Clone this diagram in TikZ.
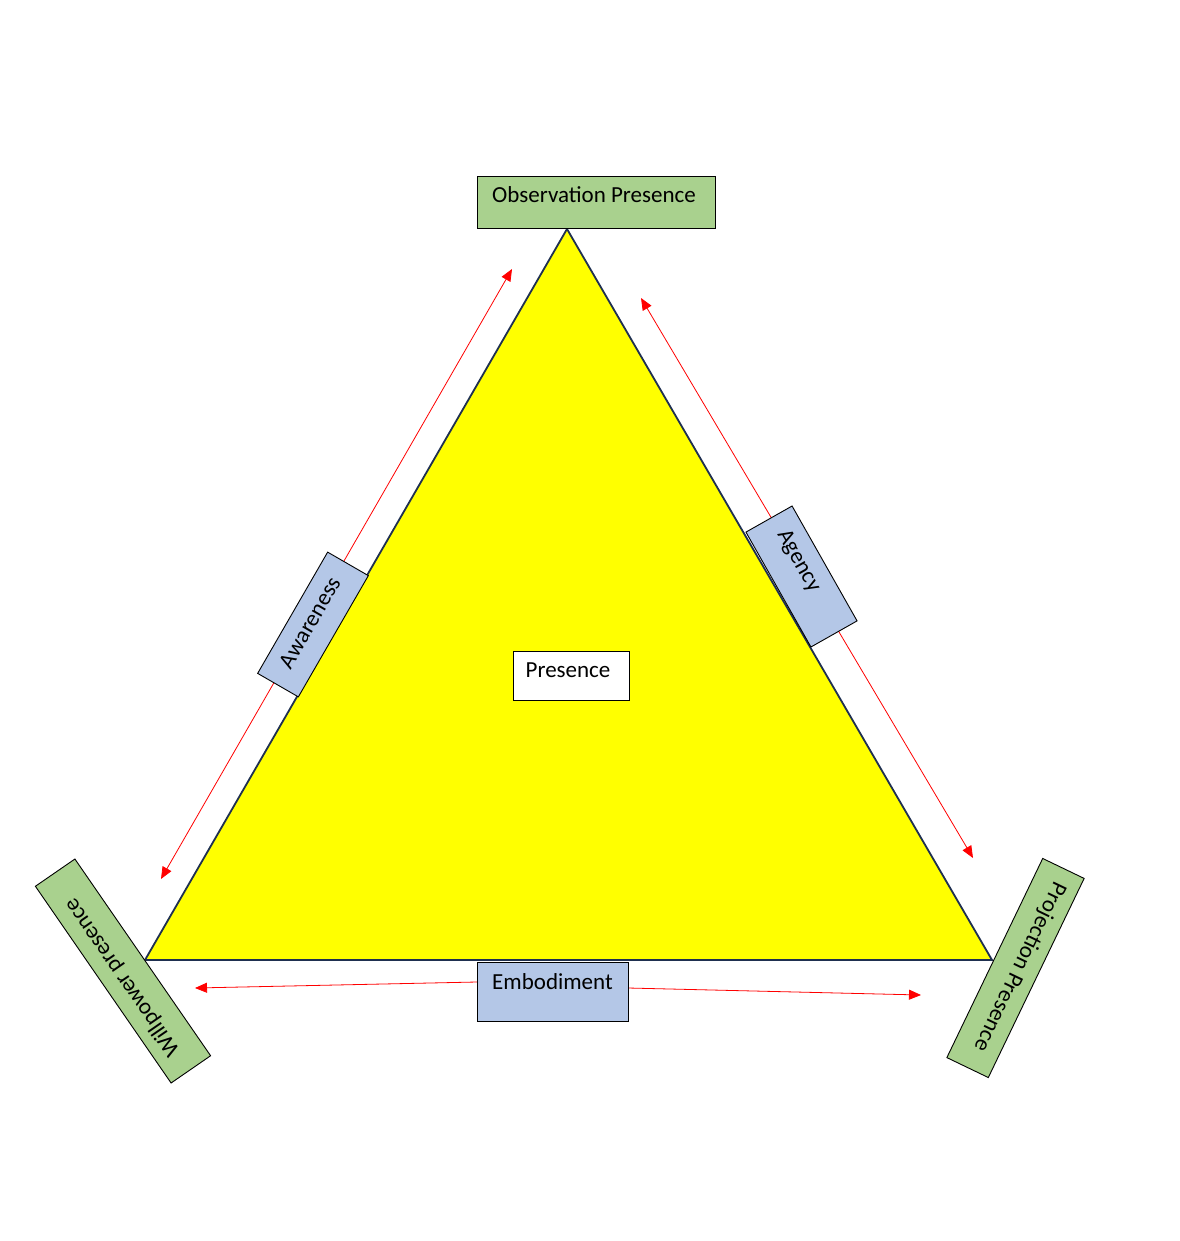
\documentclass[tikz,border=0pt]{standalone}
\usepackage{fontspec}
\setmainfont{Carlito}
\usetikzlibrary{arrows.meta}
\definecolor{boxgreen}{HTML}{A9D18E}
\definecolor{boxblue}{HTML}{B4C7E7}
\definecolor{triedge}{HTML}{1F3050}
\definecolor{trifill}{HTML}{FFFF00}
\begin{document}
\begin{tikzpicture}[x=1pt,y=1pt,
  lbl/.style={draw=black,line width=0.9pt,inner xsep=0pt,inner ysep=0pt,
    font=\fontsize{23}{27}\selectfont},
  greenbox/.style={lbl,fill=boxgreen},
  bluebox/.style={lbl,fill=boxblue},
  whitebox/.style={lbl,fill=white},
  redarrow/.style={red,line width=0.8pt,-{Triangle[length=12pt,width=10pt]}},
  redarrows/.style={red,line width=0.8pt,{Triangle[length=12pt,width=10pt]}-{Triangle[length=12pt,width=10pt]}}
]
\useasboundingbox (0,0) rectangle (1179,-1241);
% triangle
\coordinate (T) at (567,-229);
\coordinate (L) at (145,-960);
\coordinate (R) at (992,-960);
\draw[triedge,line width=1.8pt,fill=trifill,line join=miter] (T) -- (L) -- (R) -- cycle;
% arrow end points
\coordinate (aw1) at (512,-269);
\coordinate (aw2) at (161,-879);
\coordinate (ag1) at (641,-298);
\coordinate (ag2) at (973,-858);
\coordinate (emL) at (195,-988);
\coordinate (emR) at (921,-995);
\coordinate (emLs) at (477,-982);
\coordinate (emRs) at (628,-988);
\draw[redarrows] (aw1) -- (aw2);
\draw[redarrows] (ag1) -- (ag2);
\draw[redarrow] (emLs) -- (emL);
\draw[redarrow] (emRs) -- (emR);
% boxes
\node[greenbox,minimum width=238pt,text height=27pt,text depth=25pt] (obs) at (596,-202) {Observation Presence\kern4pt};
\node[whitebox,minimum width=116pt,text height=26pt,text depth=23pt] (pres) at (571,-675.5) {Presence\kern6pt};
\node[bluebox,minimum width=151pt,text height=27pt,text depth=32pt] (emb) at (552.5,-991.5) {Embodiment};
\node[bluebox,minimum width=140pt,text height=27pt,text depth=20pt,rotate=60] (aw) at (313,-624.5) {Awareness};
\node[bluebox,minimum width=132pt,text height=27pt,text depth=26pt,rotate=-60.5] (ag) at (801.5,-576.5) {Agency\kern30pt};
\node[greenbox,minimum width=239pt,text height=26pt,text depth=22pt,rotate=124.6] (wp) at (123,-971) {Willpower presence\kern10pt};
\node[greenbox,minimum width=221pt,text height=26pt,text depth=20pt,rotate=-115.7] (pp) at (1015.5,-968) {Projection Presence\kern6pt};
\end{tikzpicture}
\end{document}
